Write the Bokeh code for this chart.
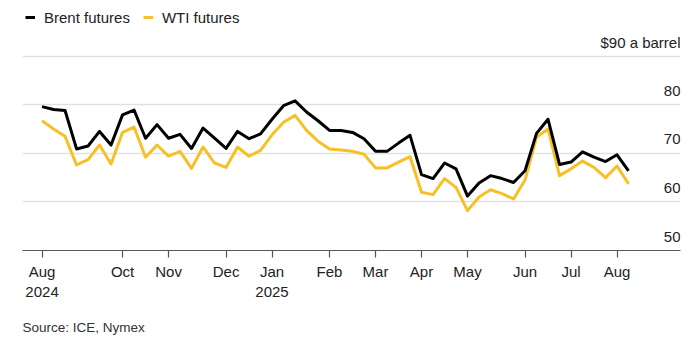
from bokeh.plotting import figure
from bokeh.models import ColumnDataSource, FixedTicker, Legend, LegendItem, Range1d, Title
from bokeh.core.properties import value
from bokeh.embed import file_html
from bokeh.resources import INLINE

# Weekly futures prices, $ a barrel (Aug 2024 - Aug 2025)
brent = [79.6, 79.0, 78.8, 70.9, 71.5, 74.5, 71.7, 77.9, 78.9, 73.1,
         75.9, 73.1, 73.9, 71.0, 75.2, 73.1, 71.0, 74.5, 73.0, 74.0,
         77.0, 79.8, 80.8, 78.5, 76.7, 74.7, 74.7, 74.3, 73.0, 70.4,
         70.4, 72.1, 73.7, 65.6, 64.8, 68.0, 66.8, 61.2, 63.9, 65.4,
         64.8, 64.0, 66.4, 74.1, 77.0, 67.7, 68.2, 70.3, 69.2, 68.3,
         69.7, 66.4]
wti = [76.7, 75.0, 73.5, 67.6, 68.7, 71.7, 67.8, 74.3, 75.4, 69.2,
       71.7, 69.4, 70.4, 66.9, 71.3, 68.0, 67.1, 71.3, 69.4, 70.6,
       73.8, 76.4, 77.8, 74.7, 72.5, 70.9, 70.7, 70.4, 69.8, 67.0,
       67.0, 68.2, 69.3, 62.0, 61.5, 64.8, 63.0, 58.2, 61.0, 62.5,
       61.7, 60.6, 64.5, 73.3, 75.0, 65.4, 66.8, 68.4, 67.1, 65.0,
       67.4, 63.7]
week = list(range(len(brent)))

tick_idx = [0, 7, 11, 16, 20, 25, 29, 33, 37, 42, 46, 50]
tick_labels = ["Aug\n2024", "Oct", "Nov", "Dec", "Jan\n2025", "Feb", "Mar",
               "Apr", "May", "Jun", "Jul", "Aug"]

y_ticks = [50, 60, 70, 80, 90]
y_labels = ["50", "60", "70", "80", "$90 a barrel"]
grid_ticks = [60, 70, 80, 90]

FONT = "Liberation Sans"
TXT = "#222222"
YELLOW = "#f6c026"

x_start, x_end = -1.70, 55.52
p = figure(width=700, height=351, output_backend="svg", toolbar_location=None,
           x_range=Range1d(x_start, x_end), y_range=Range1d(50, 101.44),
           min_border_left=22, min_border_right=20, min_border_top=0,
           min_border_bottom=101)
p.outline_line_color = None
p.background_fill_color = "white"
p.border_fill_color = "white"
p.xgrid.visible = False
p.yaxis.visible = False
p.ygrid.ticker = FixedTicker(ticks=grid_ticks)
p.ygrid.grid_line_color = "#e1e1e1"
p.ygrid.grid_line_width = 1.5

src = ColumnDataSource(dict(week=week, brent=brent, wti=wti))
r_wti = p.line("week", "wti", source=src, line_color=YELLOW, line_width=3, line_join="round")
r_brent = p.line("week", "brent", source=src, line_color="black", line_width=3, line_join="round")

# y labels sitting above the gridlines at the right edge
p.text(x=[x_end] * len(y_ticks), y=y_ticks, text=y_labels,
       text_align="right", text_baseline="alphabetic", y_offset=-14,
       text_font=value(FONT), text_font_size="15px", text_color=TXT)

xa = p.xaxis[0]
xa.ticker = FixedTicker(ticks=tick_idx)
xa.major_label_overrides = {t: l for t, l in zip(tick_idx, tick_labels)}
xa.axis_line_color = "#555555"
xa.axis_line_width = 1.2
xa.major_tick_line_color = "#555555"
xa.major_tick_line_width = 1.2
xa.major_tick_out = 7
xa.major_tick_in = 0
xa.minor_tick_line_color = None
xa.major_label_standoff = 5
xa.major_label_text_font = FONT
xa.major_label_text_font_size = "15px"
xa.major_label_text_color = TXT

legend = Legend(items=[LegendItem(label="Brent futures", renderers=[r_brent]),
                       LegendItem(label="WTI futures", renderers=[r_wti])],
                orientation="horizontal", location=(3, 223), padding=0, margin=0,
                spacing=13, label_standoff=9, glyph_width=10, glyph_height=20,
                label_text_font=FONT, label_text_font_size="15px",
                label_text_color=TXT, border_line_alpha=0, background_fill_alpha=0)
p.add_layout(legend)

src_title = Title(text="Source: ICE, Nymex", align="left", text_font=FONT,
                  text_font_size="13.5px", text_font_style="normal",
                  text_color="#333333",
                  padding=dict(left=0, right=0, top=10, bottom=0))
p.add_layout(src_title, "below")

open("out.html", "w").write(file_html(p, INLINE))
